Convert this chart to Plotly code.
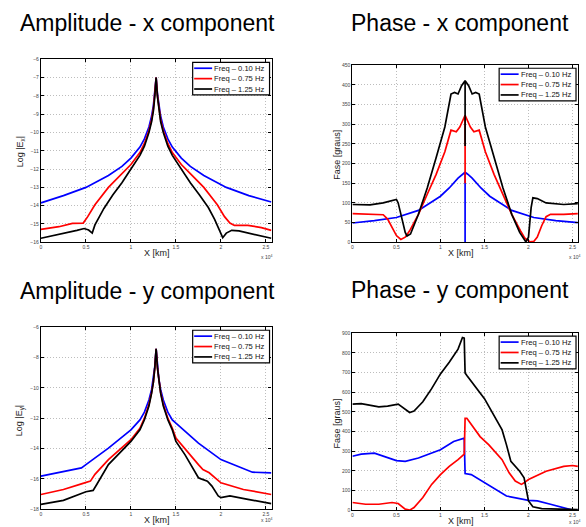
import plotly.graph_objects as go

W, H = 586, 527
FONT = "Liberation Sans, Arial, Helvetica, sans-serif"

series_names = ["Freq – 0.10 Hz", "Freq – 0.75 Hz", "Freq – 1.25 Hz"]
series_colors = ["#0000ff", "#ff0000", "#000000"]

# ---------------- Amplitude - x component ----------------
ampx_blue_x = [0, 0.25, 0.5, 0.75, 0.9, 1.0, 1.1, 1.15, 1.2, 1.23, 1.25, 1.265, 1.28,
               1.295, 1.31, 1.33, 1.36, 1.41, 1.46, 1.56, 1.66, 1.81, 2.06, 2.31, 2.56]
ampx_blue_y = [-13.85, -13.45, -13.0, -12.35, -11.85, -11.4, -10.8, -10.35, -9.7, -9.1, -8.5, -7.9, -7.0,
               -7.9, -8.5, -9.1, -9.7, -10.35, -10.8, -11.4, -11.85, -12.35, -13.0, -13.45, -13.8]

ampx_red_x = [0, 0.2, 0.35, 0.47, 0.52, 0.6, 0.75, 0.9, 1.0, 1.1, 1.15, 1.2, 1.23, 1.25, 1.265, 1.28,
              1.295, 1.31, 1.33, 1.36, 1.41, 1.46, 1.56, 1.66, 1.81, 1.96, 2.04, 2.1, 2.15, 2.3, 2.45, 2.56]
ampx_red_y = [-15.3, -15.15, -14.97, -14.95, -14.6, -13.95, -13.0, -12.25, -11.75, -11.1, -10.6, -9.9, -9.3, -8.7, -8.0, -7.0,
              -8.0, -8.7, -9.3, -9.9, -10.6, -11.1, -11.75, -12.25, -13.0, -13.95, -14.6, -14.95, -15.08, -15.08, -15.2, -15.35]

ampx_black_x = [0, 0.2, 0.4, 0.48, 0.53, 0.57, 0.6, 0.65, 0.7, 0.8, 0.9, 1.0, 1.1, 1.15, 1.2, 1.23, 1.25, 1.265, 1.28,
                1.295, 1.31, 1.33, 1.36, 1.41, 1.46, 1.56, 1.66, 1.76, 1.86, 1.93, 1.98, 2.02, 2.06, 2.12, 2.2, 2.4, 2.56]
ampx_black_y = [-15.78, -15.58, -15.35, -15.25, -15.33, -15.5, -15.05, -14.6, -14.15, -13.4, -12.75, -12.0, -11.25, -10.75, -10.0, -9.4, -8.8, -8.05, -7.0,
                -8.05, -8.8, -9.4, -10.0, -10.75, -11.25, -12.0, -12.75, -13.4, -14.1, -14.75, -15.3, -15.75, -15.5, -15.35, -15.38, -15.58, -15.78]

# ---------------- Phase - x component ----------------
phx_blue_x = [0, 0.25, 0.5, 0.75, 1.0, 1.1, 1.2, 1.25, 1.28, 1.28, 1.28, 1.31, 1.36, 1.46, 1.56, 1.81, 2.06, 2.31, 2.56]
phx_blue_y = [49, 55, 63, 81, 117, 138, 163, 173, 178, 0, 178, 173, 163, 138, 117, 81, 63, 55, 50]

phx_red_x = [0, 0.2, 0.35, 0.4, 0.45, 0.5, 0.55, 0.6, 0.65, 0.75, 0.85, 0.95, 1.05, 1.12, 1.18, 1.22, 1.28, 1.28, 1.28,
             1.34, 1.38, 1.44, 1.51, 1.61, 1.71, 1.81, 1.91, 1.96, 2.02, 2.06, 2.1, 2.15, 2.2, 2.25, 2.4, 2.56]
phx_red_y = [73, 71, 70, 59, 38, 17, 7, 13, 29, 71, 122, 172, 230, 285, 281, 293, 323, 150, 323,
             293, 281, 285, 230, 172, 122, 71, 29, 10, 1, 2, 13, 42, 65, 71, 71, 73]

phx_black_x = [0, 0.2, 0.35, 0.45, 0.5, 0.52, 0.55, 0.6, 0.62, 0.66, 0.75, 0.85, 0.95, 1.05, 1.12, 1.16, 1.2, 1.24, 1.28, 1.28, 1.28,
               1.32, 1.36, 1.40, 1.44, 1.51, 1.61, 1.71, 1.81, 1.9, 1.97, 2.0, 2.03, 2.05, 2.1, 2.2, 2.4, 2.56]
phx_black_y = [96, 95, 100, 106, 109, 100, 71, 25, 16, 21, 71, 138, 214, 293, 377, 381, 377, 398, 411, 245, 411,
               398, 377, 381, 377, 293, 214, 138, 71, 25, 1, 13, 88, 113, 111, 100, 96, 98]

# ---------------- Amplitude - y component ----------------
ampy_blue_x = [0, 0.25, 0.45, 0.5, 0.75, 1.0, 1.1, 1.15, 1.2, 1.23, 1.25, 1.265, 1.28,
               1.295, 1.31, 1.33, 1.36, 1.41, 1.46, 1.5, 1.75, 2.0, 2.25, 2.35, 2.56]
ampy_blue_y = [-15.82, -15.5, -15.28, -15.06, -13.97, -12.77, -12.11, -11.6, -10.8, -10.1, -9.4, -8.6, -7.42,
               -8.6, -9.4, -10.1, -10.8, -11.6, -12.11, -12.33, -13.64, -14.73, -15.3, -15.56, -15.6]

ampy_red_x = [0, 0.25, 0.45, 0.55, 0.6, 0.75, 1.0, 1.1, 1.15, 1.2, 1.23, 1.25, 1.265, 1.28,
              1.295, 1.31, 1.33, 1.36, 1.41, 1.46, 1.5, 1.75, 1.8, 1.87, 1.95, 2.0, 2.25, 2.56]
ampy_red_y = [-17.03, -16.7, -16.33, -16.15, -15.7, -14.73, -13.42, -12.66, -12.0, -11.1, -10.3, -9.6, -8.7, -7.42,
              -8.7, -9.6, -10.3, -11.1, -12.0, -12.66, -13.31, -15.06, -15.39, -15.6, -16.04, -16.26, -16.7, -17.03]

ampy_black_x = [0, 0.25, 0.5, 0.58, 0.62, 0.75, 1.0, 1.1, 1.15, 1.2, 1.23, 1.25, 1.265, 1.28,
                1.295, 1.31, 1.33, 1.36, 1.41, 1.46, 1.5, 1.6, 1.75, 1.78, 1.85, 1.9, 1.97, 2.0, 2.1, 2.3, 2.56]
ampy_black_y = [-17.68, -17.42, -16.85, -16.76, -16.37, -15.06, -13.53, -12.77, -12.1, -11.2, -10.35, -9.6, -8.7, -7.42,
                -8.7, -9.6, -10.35, -11.2, -12.1, -12.77, -13.53, -14.4, -15.93, -16.0, -16.15, -16.48, -17.13, -17.24, -17.13, -17.35, -17.63]

# ---------------- Phase - y component ----------------
phy_blue_x = [0, 0.1, 0.25, 0.35, 0.5, 0.6, 0.75, 1.0, 1.15, 1.27, 1.28, 1.35, 1.5, 1.75, 2.0, 2.1, 2.25, 2.45, 2.5, 2.56]
phy_blue_y = [274, 285, 290, 274, 252, 248, 265, 307, 349, 366, 186, 181, 139, 72, 50, 47, 30, 5, 0, 0]

phy_red_x = [0, 0.15, 0.3, 0.45, 0.52, 0.6, 0.65, 0.7, 0.8, 0.9, 1.0, 1.1, 1.2, 1.27, 1.28, 1.3, 1.45, 1.55, 1.7,
             1.78, 1.85, 1.92, 1.95, 2.0, 2.2, 2.4, 2.5, 2.56]
phy_red_y = [39, 30, 30, 39, 34, 5, 0, 13, 64, 131, 181, 223, 257, 285, 467, 467, 374, 332, 257,
             190, 148, 131, 139, 156, 198, 223, 227, 223]

phy_black_x = [0, 0.1, 0.3, 0.4, 0.52, 0.58, 0.65, 0.7, 0.8, 0.9, 1.0, 1.1, 1.2, 1.25, 1.27, 1.28, 1.3, 1.5, 1.7,
               1.75, 1.8, 1.9, 1.95, 2.0, 2.05, 2.15, 2.3, 2.56]
phy_black_y = [539, 542, 525, 529, 539, 520, 497, 504, 551, 618, 693, 752, 819, 878, 875, 698, 685, 567, 408,
               332, 248, 198, 165, 47, 17, 8, 5, 3]

x_tickvals = [0, 0.5, 1, 1.5, 2, 2.5]
x_ticktext = ["0", "0.5", "1", "1.5", "2", "2.5"]


def px(x):
    return x / W


def py(y):
    return 1 - y / H


# panel boxes in pixels: (left, top, right, bottom)
panels = [
    dict(box=(40, 57, 271, 242), yrange=[-16, -6], dtick=1,
         data=[(ampx_blue_x, ampx_blue_y), (ampx_red_x, ampx_red_y), (ampx_black_x, ampx_black_y)],
         title="Amplitude - x component", title_xy=(147, 20),
         ylabel="Log |E<sub>x</sub>|", ylabel_xy=(19, 150), xlabel_xy=(156, 253), exp_xy=(266, 257)),
    dict(box=(352, 63, 578, 242), yrange=[0, 450], dtick=50,
         data=[(phx_blue_x, phx_blue_y), (phx_red_x, phx_red_y), (phx_black_x, phx_black_y)],
         title="Phase - x component", title_xy=(460, 20),
         ylabel="Fase [graus]", ylabel_xy=(337, 153), xlabel_xy=(461, 253), exp_xy=(574, 257)),
    dict(box=(40, 328, 271, 512), yrange=[-18, -6], dtick=2,
         data=[(ampy_blue_x, ampy_blue_y), (ampy_red_x, ampy_red_y), (ampy_black_x, ampy_black_y)],
         title="Amplitude - y component", title_xy=(147, 291),
         ylabel="Log |E<sub>y</sub>|", ylabel_xy=(19, 422), xlabel_xy=(156, 523), exp_xy=(266, 523)),
    dict(box=(352, 334, 578, 513), yrange=[0, 900], dtick=100,
         data=[(phy_blue_x, phy_blue_y), (phy_red_x, phy_red_y), (phy_black_x, phy_black_y)],
         title="Phase - y component", title_xy=(460, 290),
         ylabel="Fase [graus]", ylabel_xy=(337, 425), xlabel_xy=(461, 524), exp_xy=(574, 525)),
]

fig = go.Figure()
layout = dict(width=W, height=H, margin=dict(l=0, r=0, t=0, b=0),
              paper_bgcolor="white", plot_bgcolor="white", showlegend=False,
              font=dict(family=FONT, color="black"))
annotations = []
shapes = []

for i, p in enumerate(panels):
    n = "" if i == 0 else str(i + 1)
    L, T, R, B = p["box"]
    axis_common = dict(showline=True, linecolor="black", linewidth=1.2, mirror="ticks",
                       ticks="inside", ticklen=3, tickcolor="black", tickwidth=1,
                       showgrid=True, gridcolor="#bdbdbd", griddash="1px,2px", gridwidth=1,
                       zeroline=False, tickfont=dict(size=5, color="#444", family=FONT))
    layout["xaxis" + n] = dict(axis_common, domain=[px(L), px(R)], range=[0, 2.5625],
                               tickvals=x_tickvals, ticktext=x_ticktext,
                               anchor="y" + n)
    layout["yaxis" + n] = dict(axis_common, domain=[py(B), py(T)], range=p["yrange"],
                               dtick=p["dtick"], tick0=0, anchor="x" + n)
    for (xs, ys), name, col in zip(p["data"], series_names, series_colors):
        fig.add_trace(go.Scatter(x=xs, y=ys, mode="lines", name=name,
                                 line=dict(color=col, width=1.7),
                                 xaxis="x" + n, yaxis="y" + n))
    # titles and labels
    annotations.append(dict(text=p["title"], x=px(p["title_xy"][0]), y=py(p["title_xy"][1]),
                            xref="paper", yref="paper", showarrow=False,
                            xanchor="center", yanchor="middle",
                            font=dict(size=23, color="black", family=FONT)))
    annotations.append(dict(text=p["ylabel"], x=px(p["ylabel_xy"][0]), y=py(p["ylabel_xy"][1]),
                            xref="paper", yref="paper", showarrow=False, textangle=-90,
                            xanchor="center", yanchor="middle",
                            font=dict(size=9, color="#222", family=FONT)))
    annotations.append(dict(text="X [km]", x=px(p["xlabel_xy"][0]), y=py(p["xlabel_xy"][1]),
                            xref="paper", yref="paper", showarrow=False,
                            xanchor="center", yanchor="middle",
                            font=dict(size=9, color="#222", family=FONT)))
    annotations.append(dict(text="x 10<sup>4</sup>", x=px(p["exp_xy"][0]), y=py(p["exp_xy"][1]),
                            xref="paper", yref="paper", showarrow=False,
                            xanchor="center", yanchor="middle",
                            font=dict(size=5, color="#444", family=FONT)))
    # legend box (drawn manually to match compact MATLAB legend)
    bx1, by0 = R - 2, T + 3
    bx0, by1 = bx1 - 77, by0 + 33
    shapes.append(dict(type="rect", xref="paper", yref="paper",
                       x0=px(bx0), x1=px(bx1), y0=py(by1), y1=py(by0),
                       line=dict(color="black", width=1.2), fillcolor="white", layer="above"))
    for k, (name, col) in enumerate(zip(series_names, series_colors)):
        yy = by0 + 6 + k * 10.5
        shapes.append(dict(type="line", xref="paper", yref="paper",
                           x0=px(bx0 + 1.5), x1=px(bx0 + 19.5), y0=py(yy), y1=py(yy),
                           line=dict(color=col, width=1.7), layer="above"))
        annotations.append(dict(text=name, x=px(bx0 + 19.5), y=py(yy),
                                xref="paper", yref="paper", showarrow=False,
                                xanchor="left", yanchor="middle",
                                font=dict(size=7.6, color="#111", family=FONT)))

layout["annotations"] = annotations
layout["shapes"] = shapes
fig.update_layout(**layout)
fig.write_html("out.html")
